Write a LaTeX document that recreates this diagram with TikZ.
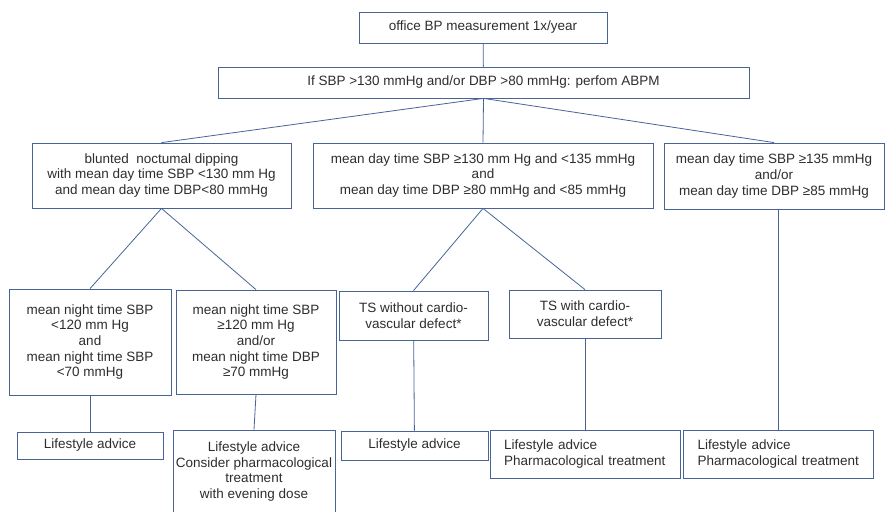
\documentclass[tikz,border=0pt]{standalone}
\usepackage{fontspec}
\setmainfont{Liberation Sans}
\usepackage{tikz}

\definecolor{edge}{RGB}{72,100,150}
\definecolor{ink}{RGB}{45,45,45}

\begin{document}
\begin{tikzpicture}[
    x=1pt, y=-1pt,
    every node/.style={font=\fontsize{13.5}{15.7}\selectfont, text=ink},
    bx/.style={rectangle, draw=edge, line width=0.8pt, align=center, inner sep=0pt},
    lbx/.style={rectangle, draw=edge, line width=0.8pt, align=left, inner xsep=14pt,
                inner ysep=0pt, text width=162pt},
    e/.style={draw=edge, line width=0.8pt},
  ]
  \useasboundingbox (0,0) rectangle (885,511);
  % top
  \node[bx, minimum width=248pt, minimum height=31pt] (office) at (483, 27.5) {office BP measurement 1x/year};
  \node[bx, minimum width=531pt, minimum height=31pt] (abpm) at (483.5, 82.5) {If SBP >130 mmHg and/or DBP >80 mmHg: perfom ABPM};
  % day time
  \node[bx, minimum width=259pt, minimum height=65pt] (dip) at (161.5, 175.5) {blunted\ \ noctumal dipping\\with mean day time SBP <130 mm Hg\\and mean day time DBP<80 mmHg};
  \node[bx, minimum width=340pt, minimum height=65pt] (mid) at (483, 175.5) {mean day time SBP ≥130 mm Hg and <135 mmHg\\and\\mean day time DBP ≥80 mmHg and <85 mmHg};
  \node[bx, minimum width=220pt, minimum height=66pt] (high) at (774, 176) {mean day time SBP ≥135 mmHg\\and/or\\mean day time DBP ≥85 mmHg};
  % night time / TS
  \node[bx, minimum width=162pt, minimum height=106pt] (nlow) at (90, 342) {mean night time SBP\\<120 mm Hg\\and\\mean night time SBP\\<70 mmHg};
  \node[bx, minimum width=160pt, minimum height=104pt] (nhigh) at (256, 342) {mean night time SBP\\≥120 mm Hg\\and/or\\mean night time DBP\\≥70 mmHg};
  \node[bx, minimum width=149pt, minimum height=49pt] (tsno) at (413.5, 315.5) {TS without cardio-\\vascular defect*};
  \node[bx, minimum width=152pt, minimum height=48pt] (tsyes) at (585, 314) {TS with cardio-\\vascular defect*};
  % advice
  \node[bx, minimum width=146pt, minimum height=27pt] (adv1) at (90, 445.5) {Lifestyle advice};
  \node[bx, minimum width=162pt, minimum height=83pt] (adv2) at (254, 471.5) {Lifestyle advice\\Consider pharmacological\\treatment\\with evening dose};
  \node[bx, minimum width=147pt, minimum height=29pt] (adv3) at (414.5, 445.5) {Lifestyle advice};
  \node[lbx, minimum height=48pt] (adv4) at (585, 454) {Lifestyle advice\\Pharmacological treatment};
  \node[lbx, minimum height=48pt] (adv5) at (778.5, 454) {Lifestyle advice\\Pharmacological treatment};
  % connectors
  \draw[e] (office) -- (abpm);
  \draw[e] (abpm.south) -- (dip.north);
  \draw[e] (abpm.south) -- (mid.north);
  \draw[e] (abpm.south) -- (high.north);
  \draw[e] (dip.south) -- (nlow.north);
  \draw[e] (dip.south) -- (nhigh.north);
  \draw[e] (mid.south) -- (tsno.north);
  \draw[e] (mid.south) -- (tsyes.north);
  \draw[e] (nlow) -- (adv1);
  \draw[e] (nhigh.south) -- (adv2.north);
  \draw[e] (tsno) -- (adv3);
  \draw[e] (tsyes) -- (adv4);
  \draw[e] (high.south -| adv5.north) -- (adv5.north);
\end{tikzpicture}
\end{document}
